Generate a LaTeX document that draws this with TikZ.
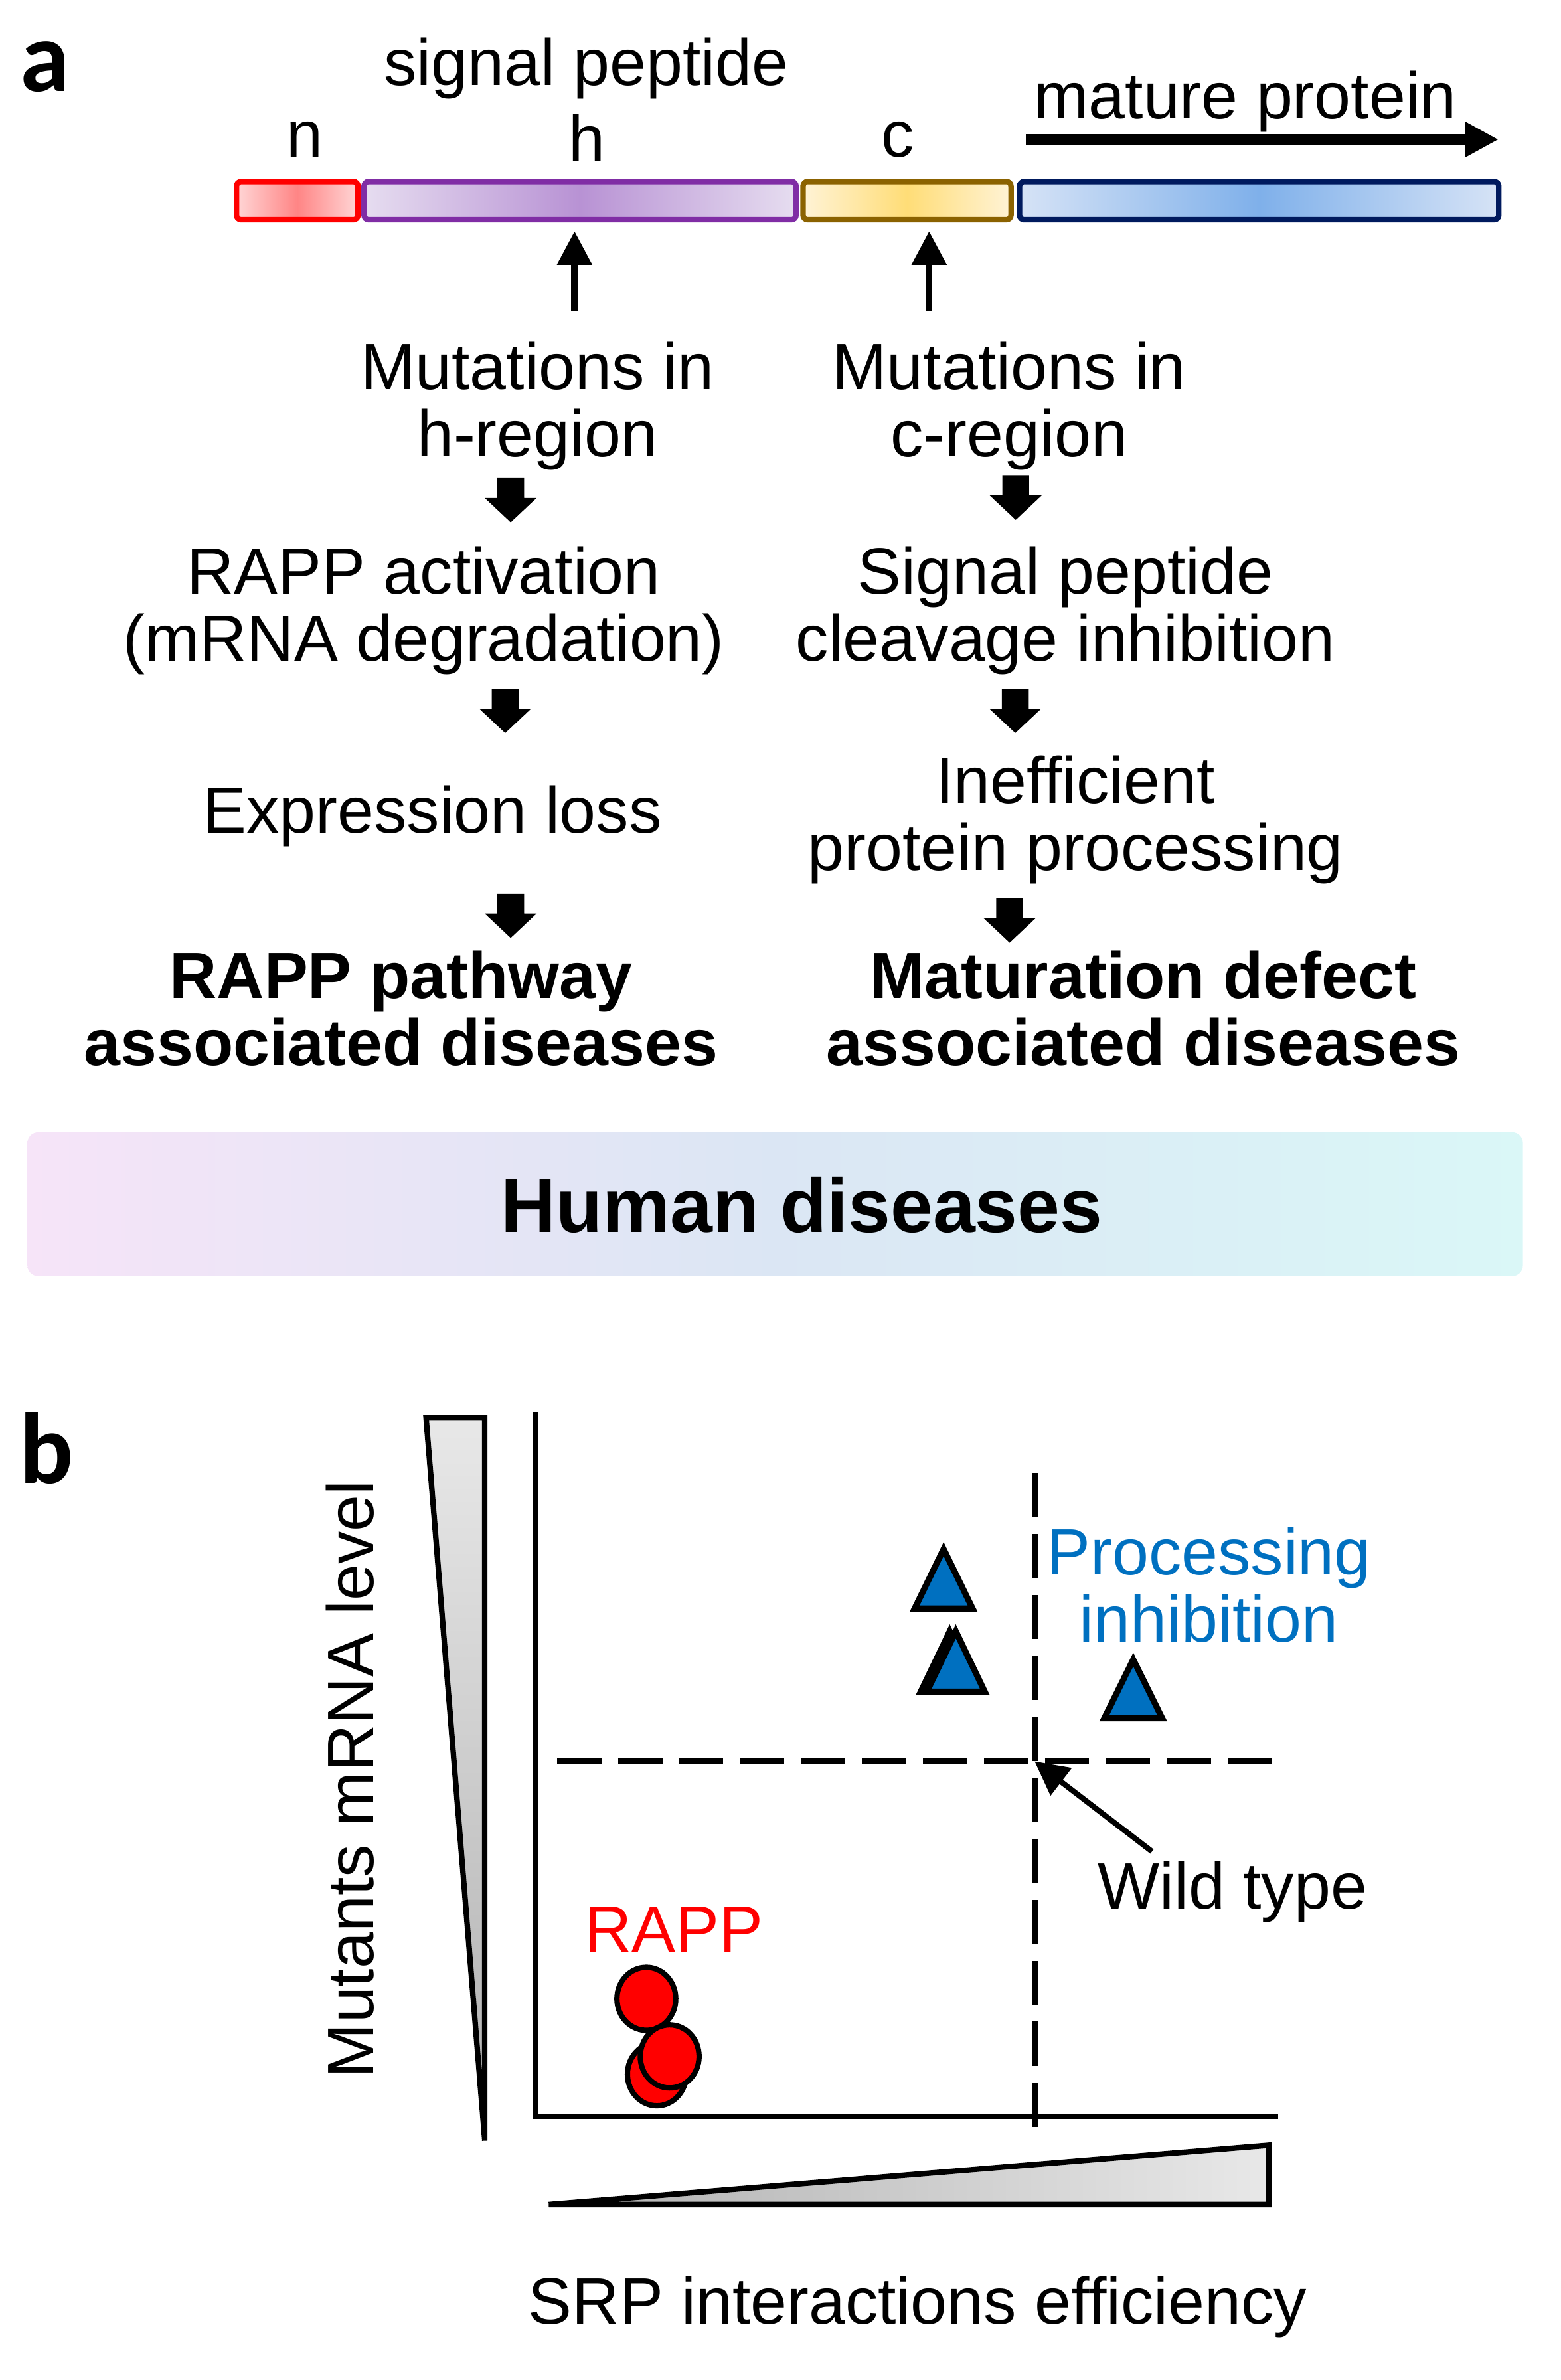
\documentclass[tikz,border=0pt]{standalone}
\usepackage{fontspec}
\setmainfont{Liberation Sans}
\newfontfamily\labelfont{Carlito}
\usetikzlibrary{arrows.meta}
\definecolor{nB}{RGB}{255,0,0}
\definecolor{nC}{RGB}{255,133,133}
\definecolor{nE}{RGB}{255,214,214}
\definecolor{hB}{RGB}{128,45,165}
\definecolor{hC}{RGB}{184,146,212}
\definecolor{hE}{RGB}{230,221,240}
\definecolor{cB}{RGB}{139,98,0}
\definecolor{cC}{RGB}{255,221,119}
\definecolor{cE}{RGB}{255,243,214}
\definecolor{mB}{RGB}{0,26,94}
\definecolor{mC}{RGB}{127,176,234}
\definecolor{mE}{RGB}{214,227,246}
\definecolor{pblue}{RGB}{0,112,192}
\definecolor{bgL}{RGB}{246,228,248}
\definecolor{bgM}{RGB}{219,230,244}
\definecolor{bgR}{RGB}{218,247,247}
\definecolor{wLight}{RGB}{232,232,232}
\definecolor{wDark}{RGB}{176,176,176}
\tikzset{
  txt/.style={font=\fontsize{43}{44}\selectfont, inner sep=0pt, align=center, anchor=base},
  btxt/.style={font=\fontsize{43}{44}\selectfont\bfseries, inner sep=0pt, align=center, anchor=base},
  panel/.style={font=\labelfont\bfseries\fontsize{66}{66}\selectfont, inner sep=0pt, anchor=base west},
  seg/.style={rectangle, rounded corners=3pt, line width=3.6pt, inner sep=0pt, minimum height=25.1pt},
  uparr/.style={line width=4.3pt, -{Triangle[length=22pt,width=22pt]}},
  wtarr/.style={line width=3.6pt, -{Triangle[length=22pt,width=22pt]}},
  bigarr/.style={line width=7pt, -{Triangle[length=22pt,width=22pt]}},
  wedge/.style={draw=black, line width=3.6pt, line join=miter},
  axisline/.style={line width=3.5pt},
  dashline/.style={line width=3.7pt, dash pattern=on 29pt off 11pt},
  tri/.style={draw=black, fill=pblue, line width=4pt, line join=miter},
  dot/.style={draw=black, fill=red, line width=3.5pt},
  blockdown/.pic={\fill (-8.8,0) -- (8.8,0) -- (8.8,13) -- (17,13) -- (0,29) -- (-17,13) -- (-8.8,13) -- cycle;}
}
\begin{document}
\begin{tikzpicture}[x={(1pt,0pt)}, y={(0pt,-1pt)}]
\useasboundingbox (0,0) rectangle (1024,1561.06);

% ---------- panel a ----------
\node[panel] (la) at (13,59.7) {a};
\node[txt] (sp) at (384.5,56) {signal peptide};
\node[txt] (ln) at (200,103) {n};
\node[txt] (lh) at (385,106) {h};
\node[txt] (lc) at (589,103) {c};
\node[txt] (mp) at (817,77.7) {mature protein};
\coordinate (mpS) at (673,91.5);
\coordinate (mpE) at (983,91.5);
\draw[bigarr] (mpS) -- (mpE);

\node[seg, draw=nB, left color=nE, right color=nE, middle color=nC, minimum width=79.7pt] (nseg) at (195,131.65) {};
\node[seg, draw=hB, left color=hE, right color=hE, middle color=hC, minimum width=283.4pt] (hseg) at (380.5,131.65) {};
\node[seg, draw=cB, left color=cE, right color=cE, middle color=cC, minimum width=136.4pt] (cseg) at (595,131.65) {};
\node[seg, draw=mB, left color=mE, right color=mE, middle color=mC, minimum width=314.4pt] (mseg) at (826,131.65) {};

\coordinate (hTail) at (376.9,204);
\coordinate (cTail) at (609.5,204);
\draw[uparr, shorten >=5.7pt] (hTail) -- (hTail |- hseg.south);
\draw[uparr, shorten >=5.7pt] (cTail) -- (cTail |- cseg.south);

% multi-line nodes: base anchor = baseline of the last line
\node[txt] (mh) at (352.5,299.5) {Mutations in\\h-region};
\node[txt] (mc) at (662,299.5) {Mutations in\\c-region};
\node[txt] (rapp) at (278,433.4) {RAPP activation\\(mRNA degradation)};
\node[txt] (spc) at (699,433.4) {Signal peptide\\cleavage inhibition};
\node[txt] (exl) at (283.6,546.5) {Expression loss};
\node[txt] (ineff) at (705.5,571) {Inefficient\\protein processing};
\node[btxt] (rdis) at (263,699) {RAPP pathway\\associated diseases};
\node[btxt] (mdis) at (750,699) {Maturation defect\\associated diseases};

\pic at (335,313.6) {blockdown};
\pic at (331.4,451.8) {blockdown};
\pic at (335,586.2) {blockdown};
\pic at (666.3,312) {blockdown};
\pic at (666,451.8) {blockdown};
\pic at (662.3,589.3) {blockdown};

\node[rectangle, rounded corners=7pt, inner sep=0pt, minimum width=981pt, minimum height=94.4pt,
      left color=bgL, right color=bgR, middle color=bgM] (banner) at (508.5,789.8) {};
\node[font=\fontsize{50}{50}\selectfont\bfseries, inner sep=0pt, anchor=base] (hd) at (526,808.2) {Human diseases};

% ---------- panel b ----------
\node[panel] (lb) at (12.5,973) {b};
\draw[wedge, top color=wLight, bottom color=wDark] (279.5,930) -- (318,930) -- (318,1404) -- cycle;
\node[txt, rotate=90] (ylab) at (245,1167) {Mutants mRNA level};
\draw[wedge, left color=wDark, right color=wLight] (360,1446) -- (832.4,1446) -- (832.4,1407) -- cycle;
\node[txt] (xlab) at (602,1524.4) {SRP interactions efficiency};

\coordinate (ytop) at (351,926);
\coordinate (orig) at (351,1388.3);
\coordinate (xend) at (838.6,1388.3);
\draw[axisline] (ytop) -- (orig) -- (xend);

\coordinate (vdT) at (679.2,966);
\coordinate (vdB) at (679.2,1395);
\coordinate (hdL) at (365.5,1155.2);
\coordinate (hdR) at (834.5,1155.2);
\draw[dashline] (vdT) -- (vdB);
\draw[dashline] (hdL) -- (hdR);

\draw[tri] (619,1016) -- ++(19,39) -- ++(-38,0) -- cycle;
\draw[tri] (623,1070) -- ++(19,39.6) -- ++(-38,0) -- cycle;
\draw[tri] (627,1070) -- ++(19,39.6) -- ++(-38,0) -- cycle;
\draw[tri] (743.4,1088.5) -- ++(19,38.5) -- ++(-38,0) -- cycle;

\node[txt, text=pblue] (proc) at (793,1077) {Processing\\inhibition};
\node[txt] (wt) at (808.5,1252) {Wild type};
\coordinate (wtTail) at (755.7,1214.4);
\coordinate (wtTip) at (678.7,1155.3);
\draw[wtarr] (wtTail) -- (wtTip);

\node[txt, text=red] (rl) at (442,1280.5) {RAPP};
\draw[dot] (424,1311) ellipse [x radius=19.3, y radius=20.7];
\draw[dot] (430.9,1360.5) ellipse [x radius=19.3, y radius=20.7];
\draw[dot] (439.3,1348.8) ellipse [x radius=19.3, y radius=20.7];
\end{tikzpicture}
\end{document}
